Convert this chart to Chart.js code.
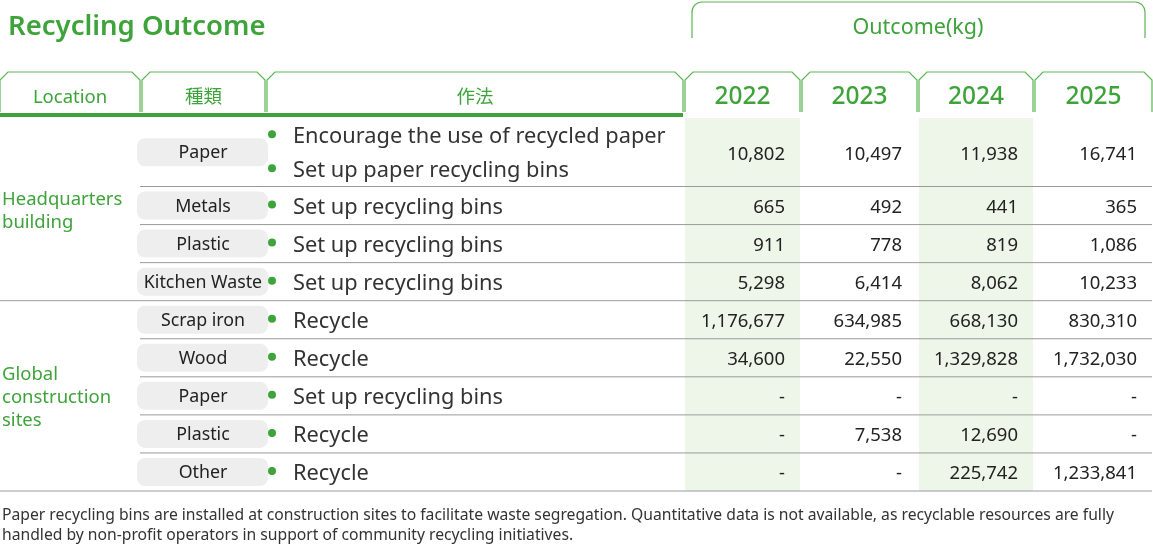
<!DOCTYPE html>
<html><head><meta charset="utf-8">
<script src="https://cdn.jsdelivr.net/npm/chart.js@4/dist/chart.umd.min.js"></script>
<style>html,body{margin:0;background:#fff}#wrap{width:1153px;height:544px;position:relative}</style>
</head><body><div id="wrap"><canvas id="c"></canvas></div>
<script>
// Данные таблицы
const years = ['2022', '2023', '2024', '2025'];
const groups = [['Headquarters', 'building'], ['Global', 'construction', 'sites']];
const groupSizes = [4, 5];
const types = ['Paper', 'Metals', 'Plastic', 'Kitchen Waste', 'Scrap iron', 'Wood', 'Paper', 'Plastic', 'Other'];
const methods = [
  ['Encourage the use of recycled paper', 'Set up paper recycling bins'],
  ['Set up recycling bins'], ['Set up recycling bins'], ['Set up recycling bins'],
  ['Recycle'], ['Recycle'], ['Set up recycling bins'], ['Recycle'], ['Recycle']
];
const rowSpans = [1.8, 1, 1, 1, 1, 1, 1, 1, 1];
const v2022 = ['10,802', '665', '911', '5,298', '1,176,677', '34,600', '-', '-', '-'];
const v2023 = ['10,497', '492', '778', '6,414', '634,985', '22,550', '-', '7,538', '-'];
const v2024 = ['11,938', '441', '819', '8,062', '668,130', '1,329,828', '-', '12,690', '225,742'];
const v2025 = ['16,741', '365', '1,086', '10,233', '830,310', '1,732,030', '-', '-', '1,233,841'];
const values = [v2022, v2023, v2024, v2025];

const GREEN = '#3ea33a';
const FONT = '"Noto Sans", "Noto Sans CJK JP", sans-serif';
const yearCols = [[685, 800], [802, 917], [919, 1033], [1035, 1152]];

function tab(ctx, x0, x1, top, bottom) {
  ctx.beginPath();
  ctx.moveTo(x0, bottom); ctx.lineTo(x0, top + 8); ctx.lineTo(x0 + 8, top);
  ctx.lineTo(x1 - 8, top); ctx.lineTo(x1, top + 8); ctx.lineTo(x1, bottom);
  ctx.stroke();
}

// Плагин, который рисует таблицу по шкалам графика
const tablePlugin = {
  id: 'table',
  beforeDatasetsDraw(chart) {
    const ctx = chart.ctx, x = chart.scales.x, y = chart.scales.y;
    const totalRows = rowSpans.reduce((a, b) => a + b, 0);
    ctx.save();
    // затенённые столбцы 2022 и 2024
    ctx.fillStyle = '#eef6e9';
    [0, 2].forEach(i => {
      const a = x.getPixelForValue(yearCols[i][0]), b = x.getPixelForValue(yearCols[i][1]);
      ctx.fillRect(a, y.getPixelForValue(0), b - a, y.getPixelForValue(totalRows) - y.getPixelForValue(0));
    });
    // заголовок
    ctx.fillStyle = GREEN; ctx.textBaseline = 'middle';
    ctx.font = '600 27.5px ' + FONT; ctx.textAlign = 'left';
    ctx.fillText('Recycling Outcome', 8, 27);
    ctx.strokeStyle = '#5bb552'; ctx.lineWidth = 1.2;
    ctx.beginPath();
    ctx.moveTo(692, 38); ctx.lineTo(692, 12); ctx.arcTo(692, 2, 702, 2, 10);
    ctx.lineTo(1135, 2); ctx.arcTo(1145, 2, 1145, 12, 10); ctx.lineTo(1145, 38); ctx.stroke();
    ctx.font = '21.5px ' + FONT; ctx.textAlign = 'center';
    ctx.fillText('Outcome(kg)', 918, 28);
    const heads = [['Location', 0, 140], ['種類', 142, 265], ['作法', 267, 683]];
    heads.forEach(h => { tab(ctx, h[1], h[2], 72, 112); ctx.font = '18.5px ' + FONT; ctx.fillText(h[0], (h[1] + h[2]) / 2, 98); });
    years.forEach((yr, i) => { tab(ctx, yearCols[i][0], yearCols[i][1], 72, 112); ctx.font = '500 24.5px ' + FONT; ctx.fillText(yr, (yearCols[i][0] + yearCols[i][1]) / 2, 97); });
    ctx.fillStyle = GREEN; ctx.fillRect(0, 113, 683, 4);
    // строки
    let acc = 0, gi = 0, gStart = 0;
    types.forEach((t, r) => {
      const top = y.getPixelForValue(acc), bot = y.getPixelForValue(acc + rowSpans[r]);
      const mid = (top + bot) / 2;
      ctx.fillStyle = '#eeeeee';
      ctx.beginPath(); ctx.roundRect(137, mid - 14, 131, 28, 8); ctx.fill();
      ctx.fillStyle = '#222'; ctx.font = '17.8px ' + FONT; ctx.textAlign = 'center';
      ctx.fillText(t, 203, mid + 1);
      const ms = methods[r];
      ms.forEach((m, k) => {
        const my = mid + (k - (ms.length - 1) / 2) * 34;
        ctx.fillStyle = GREEN; ctx.beginPath(); ctx.arc(272, my - 1, 4, 0, Math.PI * 2); ctx.fill();
        ctx.fillStyle = '#333'; ctx.font = '21.8px ' + FONT; ctx.textAlign = 'left';
        ctx.fillText(m, 293, my + 2);
      });
      ctx.font = '18.5px ' + FONT; ctx.textAlign = 'right'; ctx.fillStyle = '#222';
      values.forEach((col, c) => ctx.fillText(col[r], yearCols[c][1] - 15, mid + 2));
      acc += rowSpans[r];
      const endGroup = r - gStart + 1 === groupSizes[gi];
      ctx.strokeStyle = '#9a9a9a'; ctx.lineWidth = 1;
      ctx.beginPath(); ctx.moveTo(endGroup ? 0 : 140, bot); ctx.lineTo(1152, bot); ctx.stroke();
      if (endGroup) {
        const gTop = y.getPixelForValue(rowSpans.slice(0, gStart).reduce((a, b) => a + b, 0));
        const gMid = (gTop + bot) / 2, lines = groups[gi];
        ctx.fillStyle = GREEN; ctx.textAlign = 'left'; ctx.font = '18.5px ' + FONT;
        lines.forEach((l, k) => ctx.fillText(l, 2, gMid + 2 + (k - (lines.length - 1) / 2) * 23));
        gi++; gStart = r + 1;
      }
    });
    // примечание
    ctx.fillStyle = '#333'; ctx.font = '15.7px ' + FONT; ctx.textAlign = 'left';
    ctx.fillText('Paper recycling bins are installed at construction sites to facilitate waste segregation. Quantitative data is not available, as recyclable resources are fully', 2, 516);
    ctx.fillText('handled by non-profit operators in support of community recycling initiatives.', 2, 536);
    ctx.restore();
  }
};

new Chart(document.getElementById('c'), {
  type: 'scatter',
  data: { datasets: [{ data: [] }] },
  options: {
    responsive: true, maintainAspectRatio: false, animation: false,
    layout: { padding: { top: 118, bottom: 53, left: 0, right: 0 } },
    plugins: { legend: { display: false }, tooltip: { enabled: false } },
    scales: {
      x: { type: 'linear', min: 0, max: 1153, display: false },
      y: { type: 'linear', min: 0, max: rowSpans.reduce((a, b) => a + b, 0), reverse: true, display: false }
    }
  },
  plugins: [tablePlugin]
});
</script></body></html>
